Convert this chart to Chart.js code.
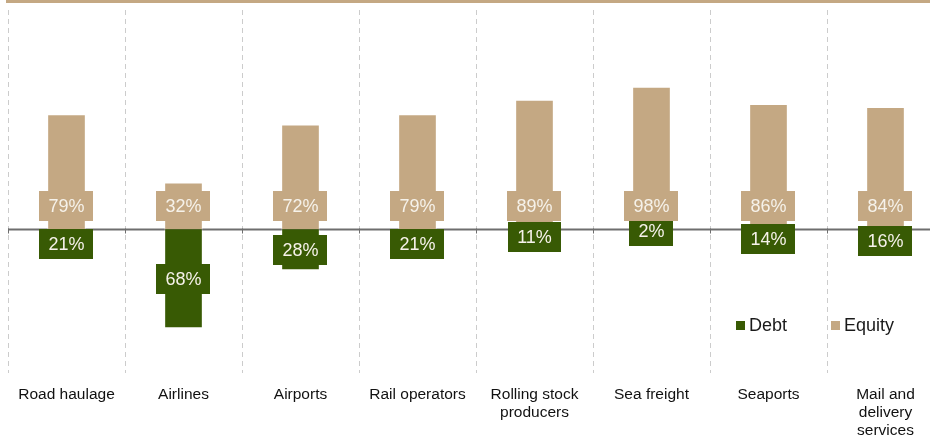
<!DOCTYPE html>
<html lang="en">
  <head>
    <meta charset="UTF-8" />
    <title>Debt and equity by transport sector</title>
    <style>
      html, body {
        margin: 0;
        padding: 0;
        background: #ffffff;
        overflow: hidden;
        font-family: Arial, "Liberation Sans", sans-serif;
      }
      .chart-container {
        position: relative;
        width: 952px;
        height: 439px;
      }
      #legend {
        position: absolute;
        left: 736px;
        top: 314px;
        display: flex;
        font-size: 18px;
        line-height: 22px;
        color: #1a1a1a;
      }
      #legend .item {
        display: flex;
        align-items: center;
        margin-right: 44px;
      }
      #legend .swatch {
        width: 9px;
        height: 9px;
        margin-right: 4px;
      }
    </style>
  </head>
  <body>
    <div class="chart-container">
      <canvas id="myChart"></canvas>
      <div id="legend"></div>
    </div>

    <script src="https://cdn.jsdelivr.net/npm/chart.js"></script>

    <script>
      // data (share of financing, %)
      const categories = [
        ["Road haulage"],
        ["Airlines"],
        ["Airports"],
        ["Rail operators"],
        ["Rolling stock", "producers"],
        ["Sea freight"],
        ["Seaports"],
        ["Mail and", "delivery", "services"],
      ];
      const debt = [21, 68, 28, 21, 11, 2, 14, 16];
      const equity = [79, 32, 72, 79, 89, 98, 86, 84];

      const TAN = "#c4a883";
      const GREEN = "#385a04";

      // decorations: tan rule at the top, zero line with small ticks
      const frame = {
        id: "frame",
        beforeDraw(chart) {
          const c = chart.ctx;
          c.save();
          c.fillStyle = TAN;
          c.fillRect(6, 0, chart.width, 3);
          c.restore();
        },
        beforeDatasetsDraw(chart) {
          const c = chart.ctx;
          const area = chart.chartArea;
          const y0 = Math.round(chart.scales.y.getPixelForValue(0)) + 0.5;
          c.save();
          c.strokeStyle = "#6e6e6e";
          c.lineWidth = 2;
          c.beginPath();
          c.moveTo(area.left, y0);
          c.lineTo(area.right, y0);
          c.stroke();
          c.lineWidth = 1;
          const n = categories.length;
          const step = (area.right - area.left) / n;
          for (let i = 0; i <= n; i++) {
            const x = Math.round(area.left + i * step) + 0.5;
            c.beginPath();
            c.moveTo(x, y0 - 1);
            c.lineTo(x, y0 + 4);
            c.stroke();
          }
          c.restore();
        },
      };

      // value labels in coloured boxes
      const boxLabels = {
        id: "boxLabels",
        afterDatasetsDraw(chart) {
          const c = chart.ctx;
          const y0 = chart.scales.y.getPixelForValue(0);
          c.save();
          c.font = "18px Arial, 'Liberation Sans', sans-serif";
          c.textAlign = "center";
          c.textBaseline = "middle";
          // debt first, so equity boxes sit on top
          [0, 1].forEach((di) => {
            const ds = chart.data.datasets[di];
            const meta = chart.getDatasetMeta(di);
            meta.data.forEach((el, i) => {
              const txt = Math.abs(ds.data[i]) + "%";
              const w = c.measureText(txt).width + 18;
              const h = 30;
              const cy = di === 1 ? y0 - 23 : (el.y + el.base) / 2;
              c.fillStyle = ds.backgroundColor;
              c.fillRect(Math.round(el.x - w / 2), Math.round(cy - h / 2), Math.round(w), h);
              c.fillStyle = "#f6f2ea";
              c.fillText(txt, el.x, cy + 1);
            });
          });
          c.restore();
        },
      };

      const ctx = document.getElementById("myChart").getContext("2d");
      const myChart = new Chart(ctx, {
        type: "bar",
        data: {
          labels: categories,
          datasets: [
            {
              label: "Debt",
              data: debt.map((v) => -v),
              backgroundColor: GREEN,
              borderColor: "rgba(255,255,255,0.35)",
              borderWidth: 1,
              barThickness: 38,
            },
            {
              label: "Equity",
              data: equity,
              backgroundColor: TAN,
              borderColor: "rgba(255,255,255,0.45)",
              borderWidth: 1,
              barThickness: 38,
            },
          ],
        },
        options: {
          responsive: true,
          maintainAspectRatio: false,
          animation: false,
          layout: { padding: { left: 8, right: 8, top: 10, bottom: 0 } },
          plugins: {
            legend: { display: false },
            tooltip: { enabled: false },
          },
          scales: {
            x: {
              stacked: true,
              grid: {
                display: true,
                offset: true,
                color: "#cccccc",
                lineWidth: 1,
                drawTicks: false,
              },
              border: { display: false, dash: [5, 4] },
              ticks: {
                color: "#111111",
                padding: 13,
                maxRotation: 0,
                autoSkip: false,
                font: { family: "Arial, 'Liberation Sans', sans-serif", size: 15.5, lineHeight: "18px" },
              },
              afterFit(scale) {
                scale.height = 66;
              },
            },
            y: {
              stacked: true,
              display: false,
              min: -99,
              max: 151,
            },
          },
        },
        plugins: [frame, boxLabels],
      });

      // legend built from the datasets
      const legend = document.getElementById("legend");
      myChart.data.datasets.forEach((ds) => {
        const item = document.createElement("div");
        item.className = "item";
        const sw = document.createElement("span");
        sw.className = "swatch";
        sw.style.background = ds.backgroundColor;
        item.appendChild(sw);
        item.appendChild(document.createTextNode(ds.label));
        legend.appendChild(item);
      });
    </script>
  </body>
</html>
